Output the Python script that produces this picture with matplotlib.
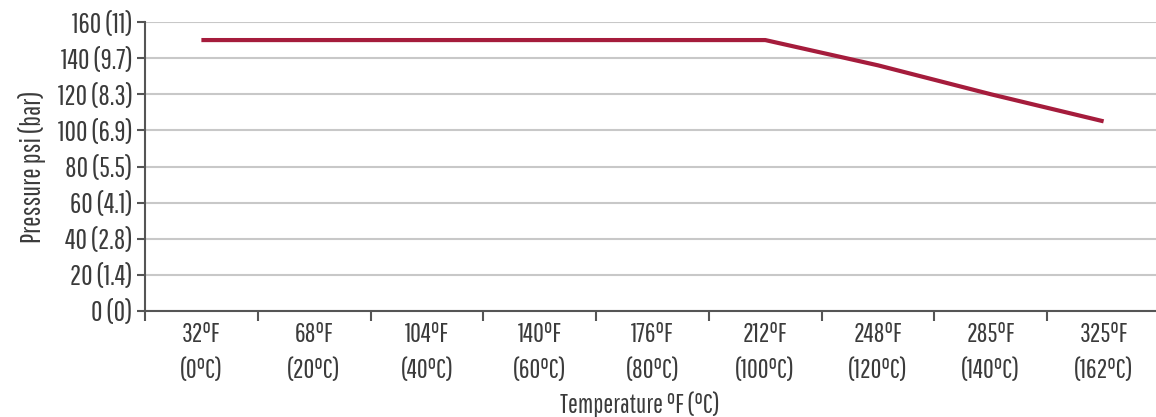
import matplotlib.pyplot as plt

# Data
temps = ['32°F\n(0°C)', '68°F\n(20°C)', '104°F\n(40°C)', '140°F\n(60°C)', '176°F\n(80°C)',
         '212°F\n(100°C)', '248°F\n(120°C)', '285°F\n(140°C)', '325°F\n(162°C)']
pressure = [150, 150, 150, 150, 150, 150, 136, 120, 105]
y_ticks = [0, 20, 40, 60, 80, 100, 120, 140, 160]
y_labels = ['0 (0)', '20 (1.4)', '40 (2.8)', '60 (4.1)', '80 (5.5)',
            '100 (6.9)', '120 (8.3)', '140 (9.7)', '160 (11)']

plt.rcParams['font.family'] = ['Pathway Gothic One', 'DejaVu Sans']

text_color = '#3b3b3b'
line_color = '#a51c3c'

fig = plt.figure(figsize=(11.56, 4.17), dpi=100)
ax = fig.add_axes([145 / 1156, 106 / 417, 1015 / 1156, 289 / 417])

x = list(range(len(temps)))
ax.plot(x, pressure, color=line_color, linewidth=3, solid_capstyle='butt', zorder=3)

ax.set_xlim(-0.5, len(temps) - 0.5)
ax.set_ylim(0, 160)
ax.set_yticks(y_ticks)
ax.set_yticklabels(y_labels)
ax.set_xticks(x)
ax.set_xticklabels(temps, linespacing=1.55)
ax.set_xticks([i - 0.5 for i in range(len(temps) + 1)], minor=True)

ax.grid(axis='y', color='#c8c8c8', linewidth=1.5, zorder=0)
ax.tick_params(axis='x', which='major', length=0, pad=8, labelsize=19, labelcolor=text_color)
ax.tick_params(axis='x', which='minor', length=7, width=1.5, color='#555555')
ax.tick_params(axis='y', length=6, width=1.5, color='#555555', pad=3, labelsize=20, labelcolor=text_color)

for side in ['top', 'right']:
    ax.spines[side].set_visible(False)
for side in ['left', 'bottom']:
    ax.spines[side].set_color('#555555')
    ax.spines[side].set_linewidth(1.5)

ax.set_ylabel('Pressure psi (bar)', fontsize=20, color=text_color, labelpad=8)
fig.text(640 / 1156, 12 / 417, 'Temperature °F (°C)', fontsize=19, color=text_color,
         ha='center', va='center')

fig.savefig('out.png', dpi=100)
